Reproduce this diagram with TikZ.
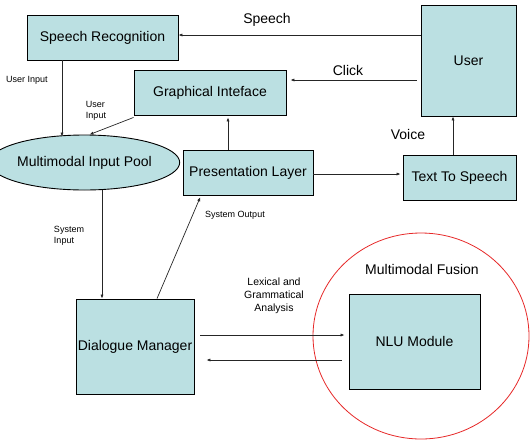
\documentclass[tikz,border=0pt]{standalone}
\usepackage{fontspec}
\setmainfont{Liberation Sans}
\usetikzlibrary{arrows.meta,shapes.geometric}
\definecolor{boxfill}{RGB}{187,224,226}
\definecolor{fusionred}{RGB}{230,40,40}
\tikzset{
  blk/.style={draw=black,line width=0.9pt,fill=boxfill,rectangle,inner sep=0pt,font=\fontsize{14}{16}\selectfont},
  conn/.style={draw=black!85,line width=0.7pt,-{Latex[length=4pt,width=3.2pt]}},
  lbl/.style={inner sep=0pt,align=center,font=\fontsize{14}{16}\selectfont},
  small/.style={inner sep=0pt,align=left,font=\fontsize{9}{11}\selectfont},
  mid/.style={inner sep=0pt,align=center,font=\fontsize{10.5}{13}\selectfont}
}
\begin{document}
\begin{tikzpicture}[x=1pt,y=-1pt]
\useasboundingbox (0,0) rectangle (530,440);
\node[draw=fusionred,line width=0.8pt,ellipse,minimum width=216,minimum height=206,inner sep=0pt] (Fusion) at (421,336) {};
\node[blk,minimum width=151,minimum height=45] (SR) at (102.5,37.5) {Speech Recognition};
\node[blk,minimum width=152,minimum height=45] (GI) at (210,92.5) {Graphical Inteface};
\node[blk,minimum width=95,minimum height=111] (User) at (468.5,60.5) {User};
\node[blk,minimum width=113,minimum height=45] (TTS) at (459.5,177.5) {Text To Speech};
\node[blk,minimum width=130,minimum height=45] (PL) at (248,172.5) {Presentation Layer};
\node[blk,ellipse,minimum width=145,minimum height=55] (Pool) at (84.5,162.5) {Multimodal Input Pool};
\node[blk,minimum width=118,minimum height=95] (DM) at (135,346.5) {Dialogue Manager};
\node[blk,minimum width=131,minimum height=95] (NLU) at (414.5,341.5) {NLU Module};

\draw[conn] (User.west |- 0,35) -- (SR.east |- 0,35);
\draw[conn,shorten <=4pt,shorten >=4pt] (User.west |- 0,80) -- (GI.east |- 0,80);
\draw[conn] (TTS.north -| 453,0) -- (User.south -| 453,0);
\draw[conn,shorten >=2pt] (PL.east |- 0,174) -- (TTS.west |- 0,174);
\draw[conn,shorten >=2pt] (PL.north -| 228,0) -- (GI.south -| 228,0);
\coordinate (PoolTop) at (62,136.5);
\draw[conn] (SR.south -| 62,0) -- (PoolTop);
\draw[conn] ([yshift=-2pt]GI.south west) -- (Pool.80);
\draw[conn] (Pool.south -| 102,0) -- (DM.north -| 102,0);
\draw[conn,shorten >=2pt] (DM.north -| 157,0) -- (PL.south -| 201,0);
\draw[conn,shorten <=6pt,shorten >=4pt] (DM.east |- 0,335) -- (NLU.west |- 0,335);
\draw[conn,shorten <=7pt,shorten >=12pt] (NLU.west |- 0,360) -- (DM.east |- 0,360);

\node[lbl] (tSpeech) at (267,20) {Speech};
\node[lbl] (tClick) at (348,70) {Click};
\node[lbl] (tVoice) at (408,134) {Voice};
\node[lbl] (tFusion) at (422,269) {Multimodal Fusion};
\node[small] (tUI1) at (27,80) {User Input};
\node[small] (tUI2) at (96,111) {User\\Input};
\node[small] (tSI) at (69,236) {System\\Input};
\node[small] (tSO) at (235,215) {System Output};
\node[mid] (tLex) at (274,296) {Lexical and\\Grammatical\\Analysis};
\end{tikzpicture}
\end{document}
